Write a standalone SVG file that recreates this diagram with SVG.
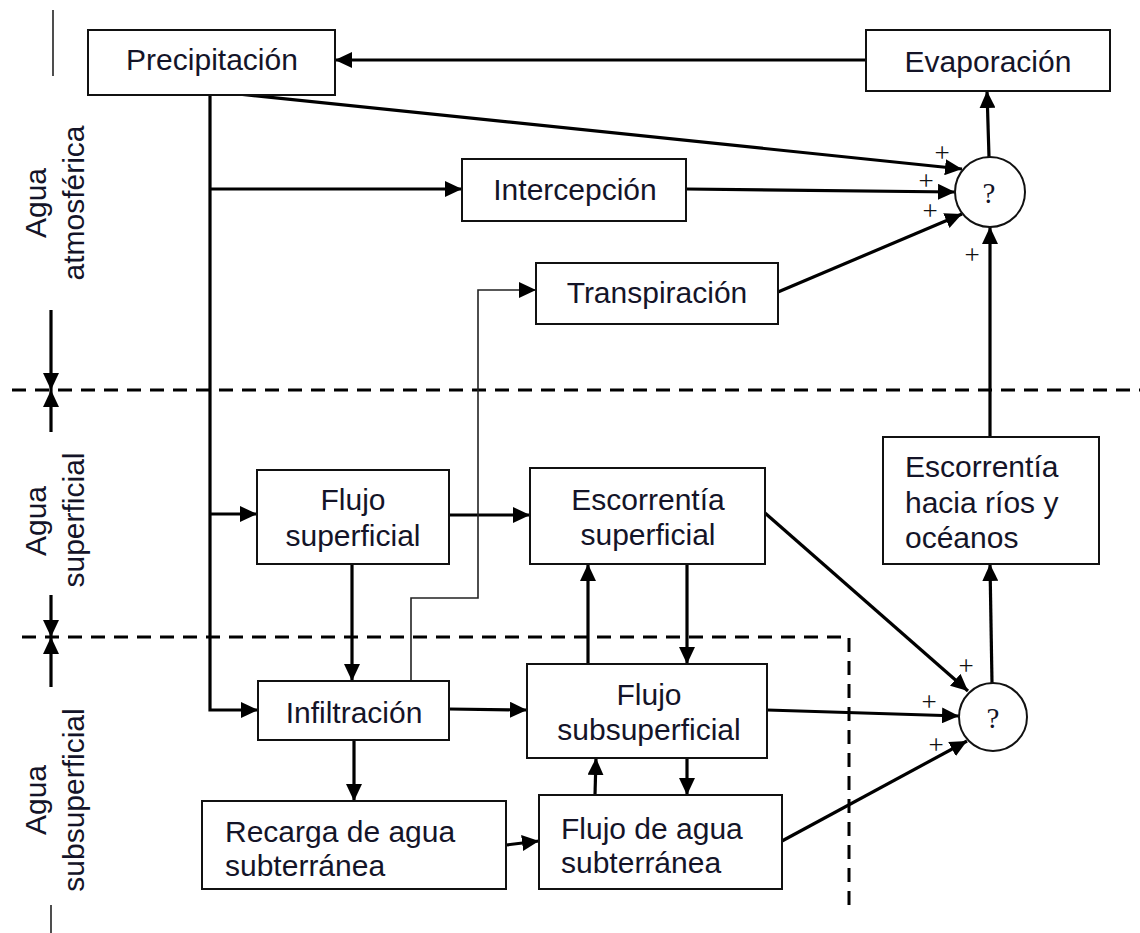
<svg xmlns="http://www.w3.org/2000/svg" width="1140" height="933" viewBox="0 0 1140 933">
<style>
.box{fill:#fff;stroke:#111;stroke-width:2}
.t{font-family:"Liberation Sans",Arial,sans-serif;font-size:30px;fill:#141428}
.c{text-anchor:middle}
.ln{fill:none;stroke:#000;stroke-width:3.2}
.thin{fill:none;stroke:#222;stroke-width:1.6}
.ar{marker-end:url(#ah)}
.dash{fill:none;stroke:#000;stroke-width:3;stroke-dasharray:14 9}
.pl{font-family:"Liberation Serif","Times New Roman",serif;font-size:27px;fill:#111;text-anchor:middle}
.q{font-family:"Liberation Serif","Times New Roman",serif;font-size:29px;fill:#141428;text-anchor:middle}
</style>
<defs>
<marker id="ah" markerUnits="userSpaceOnUse" markerWidth="17" markerHeight="16" viewBox="0 0 17 16" refX="17" refY="8" orient="auto">
<path d="M0,0 L17,8 L0,16 z" fill="#000"/>
</marker>
</defs>
<rect width="1140" height="933" fill="#fff"/>

<g id="side">
<line x1="53" y1="10" x2="53" y2="76" class="thin"/>
<line x1="51" y1="310" x2="51" y2="390" class="ln ar"/>
<line x1="51" y1="432" x2="51" y2="390" class="ln ar"/>
<line x1="51" y1="595" x2="51" y2="637" class="ln ar"/>
<line x1="51" y1="687" x2="51" y2="637" class="ln ar"/>
<line x1="51" y1="905" x2="51" y2="933" class="thin"/>
<line x1="12" y1="390" x2="1140" y2="390" class="dash"/>
<path d="M22,637 H849 V907" class="dash"/>
<text class="t c" transform="translate(46,203) rotate(-90)">Agua</text>
<text class="t c" transform="translate(84,203) rotate(-90)">atmosférica</text>
<text class="t c" transform="translate(46,521) rotate(-90)">Agua</text>
<text class="t c" transform="translate(84,520) rotate(-90)">superficial</text>
<text class="t c" transform="translate(46,800) rotate(-90)">Agua</text>
<text class="t c" transform="translate(84,800) rotate(-90)">subsuperficial</text>
</g>

<g id="connectors">
<line x1="866" y1="60" x2="335" y2="60" class="ln ar"/>
<path d="M210,91 V710 H258" class="ln ar"/>
<path d="M210,189 H462" class="ln ar"/>
<path d="M210,514 H257" class="ln ar"/>
<line x1="210" y1="91" x2="962" y2="169" class="ln ar"/>
<line x1="686" y1="189" x2="955" y2="192" class="ln ar"/>
<line x1="778" y1="292" x2="962" y2="214" class="ln ar"/>
<line x1="990" y1="437" x2="990" y2="227" class="ln ar"/>
<line x1="989" y1="157" x2="987" y2="91" class="ln ar"/>
<line x1="449" y1="515" x2="530" y2="515" class="ln ar"/>
<line x1="352" y1="564" x2="352" y2="681" class="ln ar"/>
<line x1="687" y1="564" x2="687" y2="664" class="ln ar"/>
<line x1="588" y1="664" x2="588" y2="564" class="ln ar"/>
<line x1="449" y1="709" x2="527" y2="710" class="ln ar"/>
<line x1="354" y1="740" x2="354" y2="801" class="ln ar"/>
<line x1="506" y1="845" x2="539" y2="841" class="ln ar"/>
<line x1="595" y1="795" x2="596" y2="758" class="ln ar"/>
<line x1="687" y1="758" x2="687" y2="795" class="ln ar"/>
<line x1="765" y1="513" x2="968" y2="691" class="ln ar"/>
<line x1="767" y1="710" x2="959" y2="716" class="ln ar"/>
<line x1="782" y1="841" x2="967" y2="741" class="ln ar"/>
<line x1="992" y1="683" x2="990" y2="564" class="ln ar"/>
<path d="M411,681 V598 H478 V290 H536" class="thin ar"/>
</g>

<g id="precipitacion"><rect class="box" x="88" y="30" width="247" height="65"/><text class="t c" x="212" y="70">Precipitación</text></g>
<g id="evaporacion"><rect class="box" x="866" y="30" width="244" height="61"/><text class="t c" x="988" y="72">Evaporación</text></g>
<g id="intercepcion"><rect class="box" x="462" y="159" width="224" height="62"/><text class="t c" x="575" y="200">Intercepción</text></g>
<g id="transpiracion"><rect class="box" x="536" y="263" width="242" height="61"/><text class="t c" x="657" y="303">Transpiración</text></g>
<g id="flujo-superficial"><rect class="box" x="257" y="470" width="192" height="94"/><text class="t c" x="353" y="510">Flujo</text><text class="t c" x="353" y="546">superficial</text></g>
<g id="escorrentia-superficial"><rect class="box" x="530" y="468" width="235" height="96"/><text class="t c" x="648" y="510">Escorrentía</text><text class="t c" x="648" y="545">superficial</text></g>
<g id="escorrentia-rios"><rect class="box" x="883" y="437" width="216" height="127"/><text class="t" x="905" y="477">Escorrentía</text><text class="t" x="905" y="513">hacia ríos y</text><text class="t" x="905" y="548">océanos</text></g>
<g id="infiltracion"><rect class="box" x="258" y="681" width="191" height="59"/><text class="t c" x="354" y="723">Infiltración</text></g>
<g id="flujo-subsuperficial"><rect class="box" x="527" y="664" width="240" height="94"/><text class="t c" x="649" y="705">Flujo</text><text class="t c" x="649" y="740">subsuperficial</text></g>
<g id="recarga"><rect class="box" x="202" y="801" width="304" height="88"/><text class="t" x="225" y="842">Recarga de agua</text><text class="t" x="225" y="876">subterránea</text></g>
<g id="flujo-agua-subterranea"><rect class="box" x="539" y="795" width="243" height="94"/><text class="t" x="561" y="839">Flujo de agua</text><text class="t" x="561" y="873">subterránea</text></g>
<g id="suma-superior"><circle cx="990" cy="192" r="35" fill="#fff" stroke="#111" stroke-width="2"/><text class="q" x="989" y="203">?</text></g>
<g id="suma-inferior"><circle cx="993" cy="717" r="34" fill="#fff" stroke="#111" stroke-width="2"/><text class="q" x="993" y="728">?</text></g>

<g id="signos">
<text class="pl" x="942" y="162">+</text>
<text class="pl" x="926" y="190">+</text>
<text class="pl" x="930" y="220">+</text>
<text class="pl" x="972" y="264">+</text>
<text class="pl" x="966" y="675">+</text>
<text class="pl" x="929" y="711">+</text>
<text class="pl" x="936" y="754">+</text>
</g>
</svg>
